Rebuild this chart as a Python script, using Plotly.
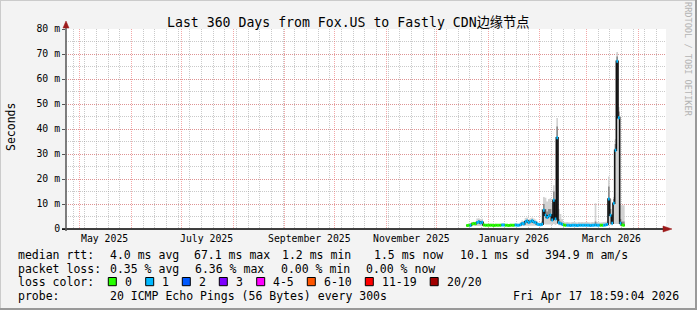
import plotly.graph_objects as go
import pandas as pd

# ---------------- data ----------------
first_day = "2025-12-19"
median_ms = [
    # Dec 19-31
    1.4, 1.5, 1.4, 2.0, 2.2, 2.1, 2.6, 2.9, 2.4, 2.7, 1.6, 1.5, 1.5,
    # Jan 1-31
    1.5, 1.5, 1.5, 1.4, 1.5, 1.5, 1.5, 1.5, 1.6, 1.6, 1.5, 1.5, 1.4, 1.5, 1.5, 1.5,
    1.6, 1.5, 1.5, 1.7, 2.2, 2.0, 2.9, 3.2, 2.6, 3.0, 3.3, 2.8, 2.6, 2.0, 1.8,
    # Feb 1-28
    1.7, 1.9, 7.5, 5.5, 4.6, 5.2, 5.6, 3.6, 11.5, 4.0, 36.5, 2.5, 2.2, 1.9, 1.6, 1.5,
    1.5, 1.5, 1.4, 1.5, 1.5, 1.5, 1.4, 1.5, 1.5, 1.5, 1.5, 1.5,
    # Mar 1-23
    1.5, 1.5, 1.4, 1.5, 1.5, 1.6, 1.5, 1.5, 1.5, 1.5, 1.5, 1.6, 1.8, 12.0, 5.5, 2.3,
    10.3, 31.5, 67.1, 44.5, 2.3, 1.6, 1.5,
]
loss_count = [
    0, 0, 1, 0, 0, 0, 1, 1, 1, 1, 0, 0, 0,
    0, 0, 0, 0, 0, 0, 0, 0, 1, 1, 0, 0, 0, 0, 0, 0,
    1, 1, 1, 1, 1, 1, 1, 1, 1, 1, 1, 1, 1, 1, 1,
    1, 1, 1, 1, 1, 1, 1, 1, 1, 1, 1, 1, 1, 1, 0, 0,
    1, 1, 1, 1, 1, 1, 1, 1, 1, 1, 1, 1,
    1, 1, 1, 1, 1, 1, 1, 1, 0, 0, 1, 1, 1, 1, 1, 1,
    1, 1, 1, 1, 1, 0, 0,
]
smoke_hi = [
    1.9, 1.9, 2.0, 2.8, 2.9, 2.8, 4.2, 4.3, 4.0, 4.1, 2.2, 2.0, 2.0,
    2.0, 2.1, 2.0, 2.0, 2.1, 2.0, 2.0, 2.1, 2.3, 2.3, 2.0, 2.0, 2.0, 2.1, 2.0, 2.0,
    2.3, 2.2, 2.1, 2.6, 3.4, 3.2, 4.4, 4.6, 4.0, 4.3, 4.6, 4.2, 3.8, 3.0, 2.6,
    2.5, 8.0, 12.8, 12.5, 11.0, 12.0, 12.3, 10.0, 17.5, 10.0, 44.4, 8.0, 6.0, 4.0, 2.8, 2.7,
    2.8, 2.7, 2.6, 2.8, 2.8, 2.7, 2.6, 2.8, 2.7, 2.8, 2.7, 2.8,
    2.8, 2.7, 2.6, 2.8, 2.7, 10.3, 2.8, 2.7, 2.6, 2.7, 2.8, 2.9, 3.0, 21.0, 12.0, 5.0,
    12.8, 36.0, 70.8, 48.8, 9.5, 9.5, 9.5,
]
smoke_mid = [
    1.6, 1.7, 1.6, 2.3, 2.5, 2.4, 3.2, 3.5, 3.0, 3.2, 1.8, 1.7, 1.7,
    1.7, 1.7, 1.7, 1.6, 1.7, 1.7, 1.7, 1.7, 1.8, 1.8, 1.7, 1.7, 1.6, 1.7, 1.7, 1.7,
    1.8, 1.7, 1.7, 2.0, 2.6, 2.4, 3.4, 3.7, 3.0, 3.4, 3.8, 3.2, 3.0, 2.3, 2.0,
    1.9, 3.0, 10.0, 8.0, 7.0, 8.0, 8.0, 6.0, 15.0, 6.0, 41.0, 4.0, 3.0, 2.3, 1.8, 1.7,
    1.7, 1.7, 1.6, 1.7, 1.7, 1.7, 1.6, 1.7, 1.7, 1.7, 1.7, 1.7,
    1.7, 1.7, 1.6, 1.7, 1.7, 3.0, 1.7, 1.7, 1.7, 1.7, 1.7, 1.8, 2.0, 17.0, 8.0, 3.0,
    12.0, 34.0, 69.0, 47.0, 4.0, 3.0, 3.0,
]
smoke_lo = [
    1.2, 1.2, 1.2, 1.2, 1.2, 1.2, 1.2, 1.2, 1.2, 1.2, 1.2, 1.2, 1.2,
    1.2, 1.2, 1.2, 1.2, 1.2, 1.2, 1.2, 1.2, 1.2, 1.2, 1.2, 1.2, 1.2, 1.2, 1.2, 1.2,
    1.2, 1.2, 1.2, 1.3, 1.3, 1.3, 1.3, 1.3, 1.3, 1.3, 1.3, 1.3, 1.3, 1.3, 1.2,
    1.3, 1.4, 2.0, 1.8, 1.8, 1.8, 1.8, 1.6, 2.0, 1.6, 2.0, 1.5, 1.4, 1.3, 1.2, 1.2,
    1.2, 1.2, 1.2, 1.2, 1.2, 1.2, 1.2, 1.2, 1.2, 1.2, 1.2, 1.2,
    1.2, 1.2, 1.2, 1.2, 1.2, 1.2, 1.2, 1.2, 1.2, 1.2, 1.2, 1.2, 1.2, 2.0, 1.6, 1.4,
    2.0, 2.0, 2.0, 2.0, 1.3, 1.2, 1.2,
]

range_start = "2025-04-22 19:00"
range_end = "2026-04-17 19:00"
ytick_vals = [0, 10, 20, 30, 40, 50, 60, 70, 80]
ytick_text = ["0", "10 m", "20 m", "30 m", "40 m", "50 m", "60 m", "70 m", "80 m"]
xlabel_dates = ["2025-05-16", "2025-07-16", "2025-09-16", "2025-11-16", "2026-01-16", "2026-03-16"]
xlabel_text = ["May 2025", "July 2025", "September 2025", "November 2025", "January 2026", "March 2026"]

loss_labels = ["0", "1", "2", "3", "4-5", "6-10", "11-19", "20/20"]
loss_colors = ["#26ff00", "#00b8ff", "#0059ff", "#7e00ff", "#ff00ff", "#ff5500", "#ff0000", "#a10000"]

title_text = "Last 360 Days from Fox.US to Fastly CDN边缘节点"
rtt_label = "median rtt:"
rtt_items = ["4.0 ms avg", "67.1 ms max", "1.2 ms min", "1.5 ms now", "10.1 ms sd", "394.9 m am/s"]
pl_label = "packet loss:"
pl_items = ["0.35 % avg", "6.36 % max", "0.00 % min", "0.00 % now"]
lc_label = "loss color:"
probe_label = "probe:"
probe_text = "20 ICMP Echo Pings (56 Bytes) every 300s"
stamp_text = "Fri Apr 17 18:59:04 2026"

# ---------------- geometry ----------------
W, H = 697, 310
L, R, T, B = 66, 31, 29, 81
PW, PH = W - L - R, H - T - B
MONO = "DejaVu Sans Mono, Noto Sans CJK SC, monospace"


def px(x):
    return (x - L) / PW


def py(y):
    return (T + PH - y) / PH


dates = pd.date_range(first_day, periods=len(median_ms), freq="D")
step_x = list(dates) + [dates[-1] + pd.Timedelta(days=1)]


def ext(v):
    return list(v) + [v[-1]]


fig = go.Figure()
# light smoke band
fig.add_trace(go.Scatter(x=step_x, y=ext(smoke_lo), mode="lines",
                         line=dict(width=0, shape="hv"), hoverinfo="skip", showlegend=False))
fig.add_trace(go.Scatter(x=step_x, y=ext(smoke_hi), mode="lines", fill="tonexty",
                         fillcolor="#d2d2d2", line=dict(width=0, shape="hv"),
                         hoverinfo="skip", showlegend=False))
# darker inner smoke
fig.add_trace(go.Scatter(x=step_x, y=ext(median_ms), mode="lines",
                         line=dict(width=0, shape="hv"), hoverinfo="skip", showlegend=False))
fig.add_trace(go.Scatter(x=step_x, y=ext(smoke_mid), mode="lines", fill="tonexty",
                         fillcolor="#8c8c8c", line=dict(width=0, shape="hv"),
                         hoverinfo="skip", showlegend=False))
# median line
fig.add_trace(go.Scatter(x=step_x, y=ext(median_ms), mode="lines",
                         line=dict(width=1.6, shape="hv", color="#111111"),
                         showlegend=False))
# loss-coloured median segments
for ci, col in enumerate(loss_colors):
    xs, ys = [], []
    for i, v in enumerate(median_ms):
        if loss_count[i] == ci:
            xs += [step_x[i], step_x[i + 1], None]
            ys += [v, v, None]
    if xs:
        fig.add_trace(go.Scatter(x=xs, y=ys, mode="lines",
                                 line=dict(width=3, color=col), showlegend=False))

GRID_MAJ = "rgba(235,110,110,0.6)"
GRID_MIN = "rgba(150,150,150,0.5)"

fig.update_layout(
    width=W, height=H,
    margin=dict(l=L, r=R, t=T, b=B, pad=0),
    paper_bgcolor="#f3f3f3", plot_bgcolor="#ffffff",
    showlegend=False,
    font=dict(family=MONO, size=10, color="#000000"),
    xaxis=dict(type="date", range=[range_start, range_end], showgrid=True,
               gridcolor=GRID_MAJ, griddash="1px,1px", gridwidth=1,
               dtick="M1", tick0="2025-05-01", showticklabels=False, ticks="",
               zeroline=False, showline=False, fixedrange=True,
               minor=dict(dtick=7 * 24 * 3600 * 1000, tick0="2025-04-27", showgrid=True,
                          gridcolor=GRID_MIN, griddash="1px,1px", gridwidth=1)),
    yaxis=dict(range=[0, 80], tickvals=ytick_vals, ticktext=ytick_text,
               showgrid=True, gridcolor=GRID_MAJ, griddash="1px,1px", gridwidth=1,
               ticks="outside", ticklen=3, tickcolor="#555555", tickwidth=1,
               tickfont=dict(family=MONO, size=9.8, color="#000000"),
               zeroline=False, showline=False, fixedrange=True,
               minor=dict(dtick=5, showgrid=True, gridcolor=GRID_MIN,
                          griddash="1px,1px", gridwidth=1)),
)

shapes = []
# frame shading
shapes.append(dict(type="line", xref="paper", yref="paper", x0=px(0), x1=px(W), y0=py(0.5), y1=py(0.5),
                   line=dict(color="#cbcbcb", width=1)))
shapes.append(dict(type="line", xref="paper", yref="paper", x0=px(0.5), x1=px(0.5), y0=py(0), y1=py(H),
                   line=dict(color="#cbcbcb", width=1)))
shapes.append(dict(type="line", xref="paper", yref="paper", x0=px(0), x1=px(W), y0=py(H - 1), y1=py(H - 1),
                   line=dict(color="#999999", width=2)))
shapes.append(dict(type="line", xref="paper", yref="paper", x0=px(W - 1), x1=px(W - 1), y0=py(0), y1=py(H),
                   line=dict(color="#999999", width=2)))
# axes
shapes.append(dict(type="line", xref="paper", yref="paper", x0=px(62), x1=px(669), y0=0, y1=0,
                   line=dict(color="#000000", width=1.5)))
shapes.append(dict(type="line", xref="paper", yref="paper", x0=0, x1=0, y0=py(231), y1=py(25),
                   line=dict(color="#555555", width=1.5)))
# arrows
shapes.append(dict(type="path", xref="paper", yref="paper",
                   path=f"M {px(663)} {py(226)} L {px(672)} {py(229)} L {px(663)} {py(232)} Z",
                   fillcolor="#9c1a1a", line=dict(color="#9c1a1a", width=0.5)))
shapes.append(dict(type="path", xref="paper", yref="paper",
                   path=f"M {px(63)} {py(28)} L {px(66)} {py(21)} L {px(69)} {py(28)} Z",
                   fillcolor="#9c1a1a", line=dict(color="#9c1a1a", width=0.5)))

annotations = []


def txt(x, y, s, size=11.5, xanchor="left", color="#000000", angle=0):
    annotations.append(dict(xref="paper", yref="paper", x=px(x), y=py(y), text=s,
                            showarrow=False, xanchor=xanchor, yanchor="middle",
                            textangle=angle,
                            font=dict(family=MONO, size=size, color=color)))


# x labels (data-anchored dates)
for d, s in zip(xlabel_dates, xlabel_text):
    annotations.append(dict(xref="x", yref="paper", x=d, y=py(238), text=s, showarrow=False,
                            xanchor="center", yanchor="middle",
                            font=dict(family=MONO, size=9.8, color="#000000")))

txt(348, 22, title_text, size=13.2, xanchor="center")
txt(11, 127, "Seconds", size=11.5, xanchor="center", angle=-90)
txt(688, 59, "RRDTOOL / TOBI OETIKER", size=8.6, xanchor="center", color="#b4b4b4", angle=90)

# legend
txt(16, 255, rtt_label)
for x, s in zip([107.6, 192, 280, 372.4, 457.8, 543], rtt_items):
    txt(x, 255, s)
txt(16, 268.5, pl_label)
for x, s in zip([107.6, 193, 279, 364.4], pl_items):
    txt(x, 268.5, s)
txt(16, 282, lc_label)
box_x = [108.3, 145.7, 182.3, 219.3, 256.7, 307.3, 365.3, 430.2]
for bx, lab, col in zip(box_x, loss_labels, loss_colors):
    shapes.append(dict(type="rect", xref="paper", yref="paper",
                       x0=px(bx), x1=px(bx + 8), y0=py(285.7), y1=py(277.5),
                       fillcolor=col, line=dict(color="#000000", width=1)))
    txt(bx + 14.5, 282, lab)
txt(16, 296, probe_label)
txt(107.6, 296, probe_text)
txt(680.5, 296, stamp_text, xanchor="right")

fig.update_layout(shapes=shapes, annotations=annotations)
fig.write_html("out.html")
